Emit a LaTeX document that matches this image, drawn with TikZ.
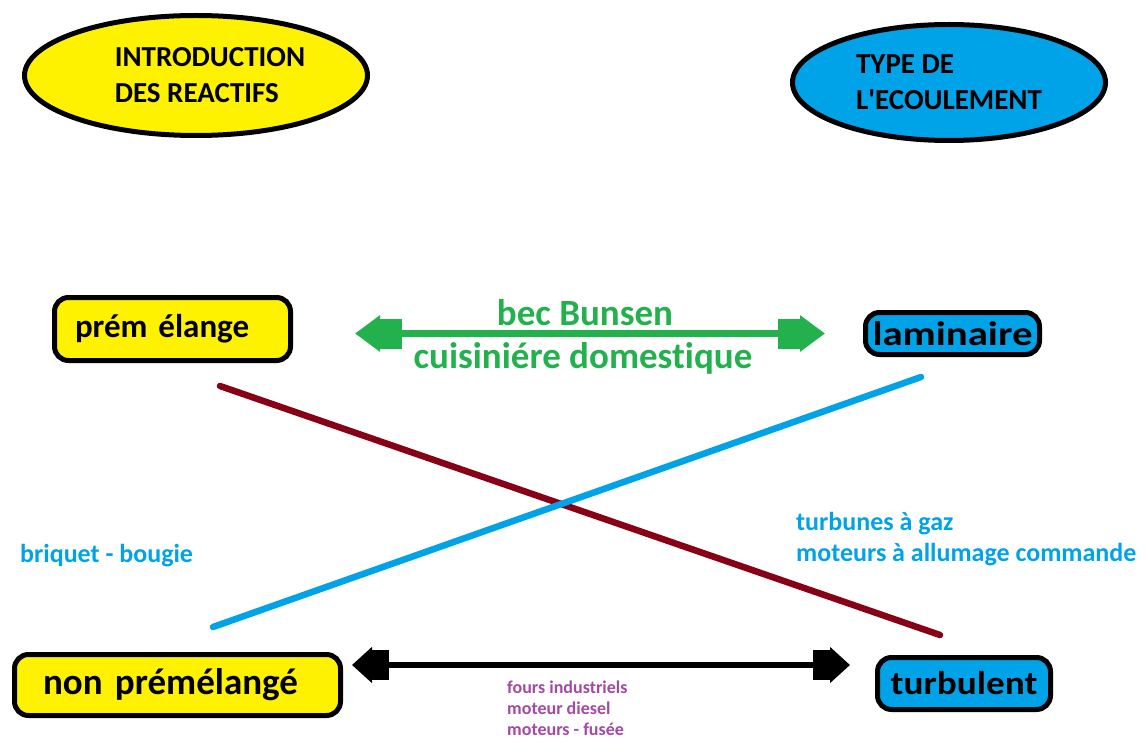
\documentclass[tikz,border=0pt]{standalone}
\usepackage{fontspec}
\usepackage{graphicx}
\setmainfont{Carlito}[Ligatures={NoCommon}]
\usetikzlibrary{shapes.geometric,arrows.meta}
\definecolor{yel}{HTML}{FFF200}
\definecolor{turq}{HTML}{00A2E8}
\definecolor{grn}{HTML}{22B14C}
\definecolor{maroon}{HTML}{880015}
\definecolor{purp}{HTML}{A349A4}
\newcommand{\straightquote}{\XeTeXglyph\XeTeXcharglyph"27\relax}
\tikzset{
  ell/.style={ellipse, draw=black, line width=5pt, align=left, inner sep=0pt,
    font=\fontsize{29}{36}\selectfont\bfseries},
  box/.style={rectangle, rounded corners=14pt, draw=black, line width=5pt},
  txt/.style={inner sep=0pt, font=\bfseries},
  garrow/.style={draw=grn, line width=6.5pt},
  barrow/.style={draw=black, line width=6.5pt},
  crossline/.style={line width=6.5pt, line cap=round},
}
\begin{document}
\begin{tikzpicture}[x=1pt,y=-1pt]
\useasboundingbox (0,0) rectangle (1146,738);
% ellipses
\node[ell, fill=yel, minimum width=343pt, minimum height=120pt] (intro) at (196,75.5)
  {\hspace*{28pt}INTRODUCTION\\\hspace*{28pt}DES REACTIFS};
\node[ell, fill=turq, minimum width=313pt, minimum height=116pt] (type) at (949,82.5)
  {TYPE DE\\L\straightquote ECOULEMENT};
% boxes
\node[box, fill=yel, minimum width=236pt, minimum height=63pt, text width=195pt,
  inner xsep=20.5pt, inner ysep=0pt, align=left, font=\fontsize{33}{38}\selectfont\bfseries]
  (prem) at (172.5,329) {prém élange};
\node[box, fill=turq, minimum width=174pt, minimum height=42pt, inner sep=0pt,
  font=\fontsize{34}{38}\selectfont\bfseries]
  (lam) at (952.5,333.5) {\scalebox{1.2}[1]{laminaire}};
\node[box, fill=yel, minimum width=326pt, minimum height=61pt, text width=269pt,
  inner xsep=28.5pt, inner ysep=0pt, align=left, font=\fontsize{37}{42}\selectfont\bfseries]
  (nonp) at (177.5,685) {non prémélangé};
\node[box, fill=turq, minimum width=173pt, minimum height=52pt, inner sep=0pt,
  font=\fontsize{33}{38}\selectfont\bfseries]
  (turb) at (964,683.5) {\scalebox{1.13}[1]{turbulent}};
% crossing lines
\coordinate (r1) at (220,386);
\coordinate (r2) at (940,635);
\coordinate (b1) at (213,627);
\coordinate (b2) at (921,377);
\draw[crossline, maroon] (r1) -- (r2);
\draw[crossline, turq] (b1) -- (b2);
% arrows
\draw[garrow, shorten <=62pt, shorten >=38pt,
  {Triangle[length=25pt,width=35pt,sep=0pt]Square[length=22pt,width=30pt,sep=0pt]}-{Square[length=22pt,width=30pt,sep=0pt]Triangle[length=25pt,width=35pt,sep=0pt]}]
  (prem.east |- lam.west) -- (lam.west);
\draw[barrow, shorten <=9pt, shorten >=25pt,
  {Triangle[length=20pt,width=35pt,sep=0pt]Square[length=17pt,width=30pt,sep=0pt]}-{Square[length=17pt,width=30pt,sep=0pt]Triangle[length=20pt,width=35pt,sep=0pt]}]
  ([yshift=20pt]nonp.east) -- ([yshift=18.5pt]turb.west);
% green texts
\node[txt, grn, anchor=base, font=\fontsize{37}{42}\selectfont\bfseries] (bec) at (585,325) {bec Bunsen};
\node[txt, grn, anchor=base, font=\fontsize{37}{42}\selectfont\bfseries] (cuis) at (583,368) {cuisiniére domestique};
% blue texts
\node[txt, turq, anchor=base west, font=\fontsize{26}{30}\selectfont\bfseries] (tg) at (796,530) {turbunes à gaz};
\node[txt, turq, anchor=base west, font=\fontsize{26}{30}\selectfont\bfseries] (mac) at (796,561) {moteurs à allumage commande};
\node[txt, turq, anchor=base west, font=\fontsize{26}{30}\selectfont\bfseries] (bq) at (20,562) {briquet - bougie};
% purple texts
\node[txt, purp, anchor=base west, font=\fontsize{18}{21}\selectfont\bfseries] (fi) at (507,693) {fours industriels};
\node[txt, purp, anchor=base west, font=\fontsize{18}{21}\selectfont\bfseries] (md) at (507,714) {moteur diesel};
\node[txt, purp, anchor=base west, font=\fontsize{18}{21}\selectfont\bfseries] (mf) at (507,735) {moteurs - fusée};
\end{tikzpicture}
\end{document}
